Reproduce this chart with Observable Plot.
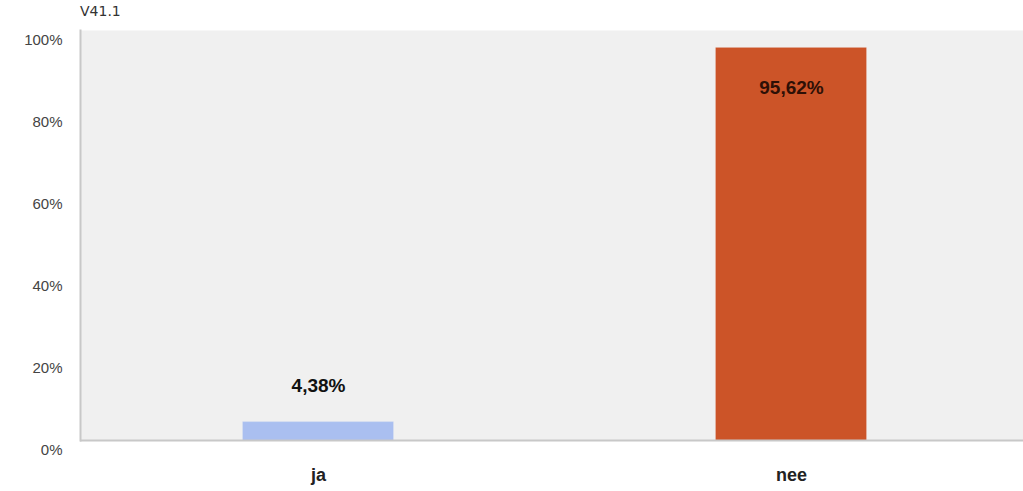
<!DOCTYPE html>
<html>
<head>
<meta charset="utf-8">
<script src="https://cdn.jsdelivr.net/npm/d3@7"></script>
<script src="https://cdn.jsdelivr.net/npm/@observablehq/plot@0.6"></script>
<style>
  html, body { margin: 0; padding: 0; background: #ffffff; }
  #wrap { position: relative; width: 1023px; height: 491px; overflow: hidden; }
  #title { position: absolute; left: 80px; top: 3px; font-family: "DejaVu Sans", sans-serif; font-size: 14px; color: #333; }
  #chart { position: absolute; left: 0; top: 0; }
</style>
</head>
<body>
<div id="wrap">
  <div id="chart"></div>
  <div id="title">V41.1</div>
</div>
<script>
const categories = ["ja", "nee"];
const values = [4.38, 95.62];
const valueLabels = ["4,38%", "95,62%"];
const colors = ["#aabff0", "#cc5428"];
const yTicks = [0, 20, 40, 60, 80, 100];

const data = categories.map((c, i) => ({cat: c, value: values[i], label: valueLabels[i]}));

const chart = Plot.plot({
  width: 1023,
  height: 491,
  marginTop: 30,
  marginBottom: 51,
  marginLeft: 80,
  marginRight: 0,
  style: {fontFamily: "'Liberation Sans', Arial, sans-serif", background: "transparent"},
  x: {domain: categories, paddingInner: 0.6835, paddingOuter: 0.3365, align: 0.51, label: null},
  y: {domain: [0, 100], label: null},
  color: {domain: categories, range: colors},
  marks: [
    Plot.frame({fill: "#f0f0f0", stroke: null}),
    Plot.barY(data, {x: "cat", y: "value", fill: "cat", stroke: "cat", strokeOpacity: 0.8, inset: 0}),
    Plot.ruleY([0], {stroke: "#c8c8c8", strokeWidth: 2}),
    Plot.frame({anchor: "left", stroke: "#c8c8c8", strokeWidth: 2}),
    Plot.text(data.filter(d => d.value < 50), {x: "cat", y: "value", text: "label", dy: -37, fontSize: 19, fontWeight: "bold", fill: "#111"}),
    Plot.text(data.filter(d => d.value >= 50), {x: "cat", y: "value", text: "label", dy: 39, fontSize: 19, fontWeight: "bold", fill: "#2e1006"}),
    Plot.axisY({ticks: yTicks, tickFormat: d => d + "%", tickSize: 0, tickPadding: 18, dy: 10, fontSize: 15, color: "#444", label: null}),
    Plot.axisX({tickSize: 0, tickPadding: 28, fontSize: 18, fontWeight: "bold", color: "#222", label: null})
  ]
});
document.getElementById("chart").appendChild(chart);
</script>
</body>
</html>
